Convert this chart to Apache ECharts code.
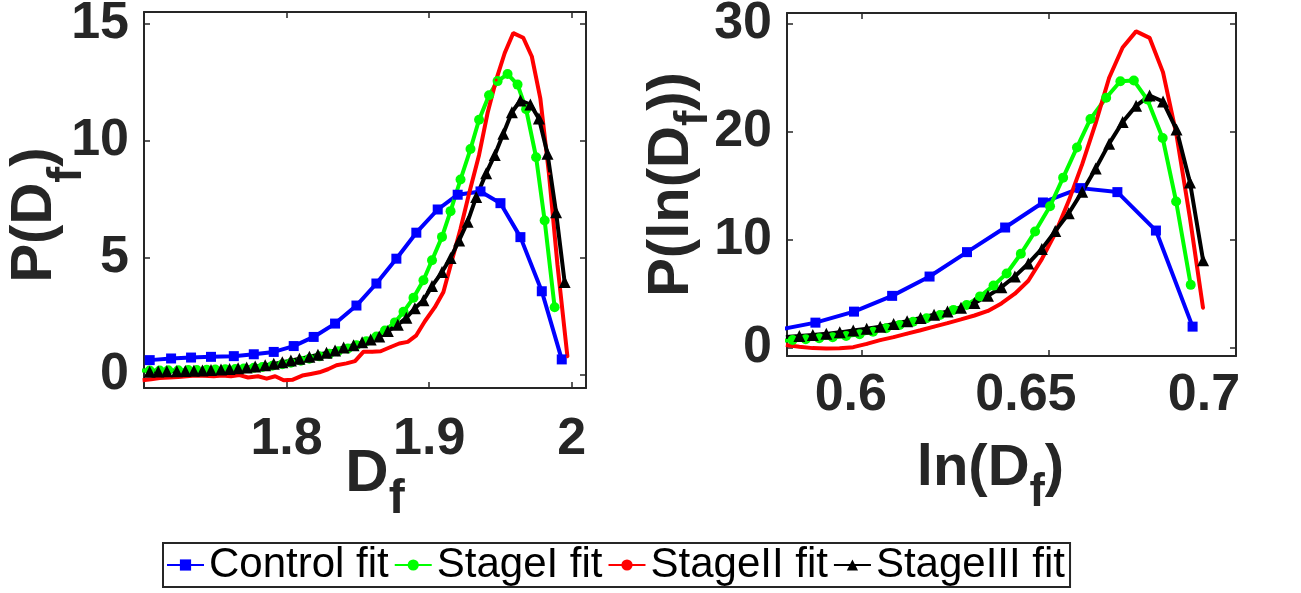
<!DOCTYPE html>
<html>
<head>
<meta charset="UTF-8">
<title>P(Df)</title>
<style>
body{margin:0;background:#fff;}
#main{width:1301px;height:593px;}
</style>
</head>
<body>
<div id="main"></div>
<script type="text/javascript" src="https://cdn.jsdelivr.net/npm/echarts@6.0.0/dist/echarts.min.js"></script>
<script type="text/javascript">
// ---- left panel: P(Df) ----
var dfBlueX = [1.704,1.719,1.733,1.747,1.763,1.777,1.791,1.805,1.819,1.834,1.849,1.863,1.877,1.891,1.906,1.920,1.936,1.950,1.964,1.979,1.993];
var dfBlueY = [0.64,0.71,0.75,0.78,0.81,0.89,0.99,1.24,1.63,2.20,2.97,3.91,4.97,6.08,7.07,7.70,7.84,7.34,5.89,3.58,0.67];

var dfGreenX = [1.698,1.704,1.711,1.717,1.724,1.731,1.737,1.744,1.750,1.757,1.764,1.770,1.777,1.783,1.790,1.797,1.803,1.810,1.816,1.823,1.830,1.836,1.843,1.849,1.856,1.863,1.869,1.876,1.882,1.889,1.896,1.902,1.909,1.915,1.922,1.929,1.935,1.942,1.948,1.955,1.962,1.968,1.975,1.981,1.988];
var dfGreenY = [0.20,0.20,0.20,0.21,0.21,0.22,0.22,0.23,0.24,0.25,0.26,0.28,0.31,0.35,0.40,0.46,0.53,0.61,0.70,0.80,0.91,1.02,1.14,1.28,1.45,1.65,1.90,2.25,2.70,3.30,4.05,4.90,5.90,7.00,8.35,9.65,10.9,11.95,12.55,12.85,12.4,11.35,9.3,6.6,2.9];

var dfRedX = [1.699,1.705,1.711,1.718,1.724,1.730,1.736,1.742,1.749,1.755,1.761,1.767,1.773,1.780,1.786,1.792,1.798,1.804,1.811,1.817,1.823,1.829,1.835,1.842,1.848,1.854,1.860,1.866,1.873,1.879,1.885,1.891,1.897,1.904,1.910,1.916,1.922,1.928,1.935,1.941,1.947,1.953,1.959,1.966,1.972,1.978,1.984,1.990,1.997];
var dfRedY = [-0.22,-0.18,-0.12,-0.10,-0.08,-0.05,-0.02,-0.03,-0.05,-0.02,-0.05,0.0,-0.10,-0.05,-0.15,-0.05,-0.22,-0.20,-0.02,0.05,0.12,0.25,0.42,0.50,0.60,1.00,1.00,1.02,1.20,1.35,1.42,1.70,2.30,2.90,3.55,4.90,6.25,7.75,9.40,11.2,12.6,13.75,14.6,14.4,13.6,11.8,8.6,4.7,0.78];

var dfBlackX = [1.704,1.710,1.716,1.723,1.729,1.735,1.741,1.747,1.754,1.760,1.766,1.772,1.778,1.785,1.791,1.797,1.803,1.809,1.816,1.822,1.828,1.834,1.840,1.847,1.853,1.859,1.865,1.871,1.878,1.884,1.890,1.896,1.902,1.909,1.915,1.921,1.927,1.933,1.940,1.946,1.952,1.958,1.964,1.971,1.977,1.983,1.989,1.995];
var dfBlackY = [0.14,0.15,0.16,0.17,0.18,0.19,0.20,0.22,0.24,0.26,0.29,0.32,0.37,0.42,0.48,0.55,0.62,0.70,0.78,0.87,0.95,1.05,1.18,1.28,1.40,1.52,1.65,1.88,2.15,2.45,2.85,3.20,3.80,4.40,5.00,5.75,6.55,7.60,8.62,9.40,10.3,11.22,11.72,11.55,10.95,9.45,6.95,3.98];

// ---- right panel: P(ln(Df)) ----
var lnBlueX = [0.5775,0.5876,0.5979,0.6081,0.6181,0.6281,0.6383,0.6484,0.6584,0.6683,0.6786,0.6884];
var lnBlueY = [1.64,2.32,3.34,4.80,6.59,8.85,11.13,13.45,14.78,14.41,10.85,1.95];

var lnGreenX = [0.5779,0.5815,0.5850,0.5886,0.5922,0.5958,0.5994,0.6030,0.6065,0.6101,0.6137,0.6173,0.6209,0.6245,0.6280,0.6316,0.6352,0.6387,0.6425,0.6463,0.6503,0.6538,0.6575,0.6611,0.6653,0.6691,0.6727,0.6763,0.6804,0.6840,0.6879];
var lnGreenY = [0.65,0.71,0.78,0.87,0.96,1.08,1.25,1.48,1.80,2.10,2.41,2.72,3.03,3.50,3.96,4.75,5.75,6.87,8.70,10.76,13.1,15.75,18.55,21.19,23.15,24.68,24.74,22.98,19.42,13.54,5.82];

// red and black share the same bins
var lnStageX = [0.5797,0.5833,0.5869,0.5905,0.5941,0.5977,0.6013,0.6049,0.6085,0.6121,0.6157,0.6193,0.6229,0.6265,0.6301,0.6337,0.6373,0.6409,0.6445,0.6481,0.6517,0.6553,0.6589,0.6625,0.6661,0.6697,0.6733,0.6769,0.6805,0.6841,0.6877,0.6912];
var lnRedY = [0.25,0.08,-0.04,-0.08,-0.05,0.05,0.35,0.70,0.98,1.30,1.62,1.95,2.28,2.62,2.98,3.40,4.10,5.00,6.20,8.20,10.6,13.6,17.0,20.8,25.0,27.8,29.3,28.7,25.5,19.7,12.0,3.65];
var lnBlackY = [1.00,1.08,1.18,1.28,1.42,1.60,1.75,1.95,2.20,2.45,2.75,3.05,3.35,3.70,4.15,4.80,5.60,6.60,7.80,9.15,10.8,12.45,14.45,16.6,18.9,20.9,22.4,23.35,22.8,20.2,15.3,8.1];

// ticks
var dfTicks = [1.8, 1.9, 2.0];
var dfYTicks = [0, 5, 10, 15];
var lnTicks = [0.6, 0.65, 0.7];
var lnYTicks = [0, 10, 20, 30];

var seriesNames = ['Control fit', 'StageI fit', 'StageII fit', 'StageIII fit'];

function pairs(xs, ys) {
	return xs.map(function (x, i) { return [x, ys[i]]; });
}

var FONT = '"Liberation Sans", Arial, sans-serif';
var INK = '#262626';

// one side of the box; top/right copies carry only the ticks
function boxAxis(grid, pos, min, max, ticks, extra) {
	var ax = {
		gridIndex: grid,
		type: 'value',
		position: pos,
		min: min,
		max: max,
		nameMoveOverlap: false,
		axisLine: {show: true, onZero: false, lineStyle: {color: INK, width: 2}},
		axisTick: {show: true, inside: true, length: 6, customValues: ticks, lineStyle: {color: INK, width: 1.5}},
		axisLabel: {show: false},
		splitLine: {show: false}
	};
	for (var k in extra) ax[k] = extra[k];
	return ax;
}

function tickLabel(ticks, margin, fmt, rich) {
	var l = {
		show: true,
		customValues: ticks,
		margin: margin,
		color: INK,
		fontFamily: FONT,
		fontWeight: 'bold',
		fontSize: 52,
		formatter: fmt
	};
	if (rich) l.rich = rich;
	return l;
}

// axis title with a subscript f (drop = how far the f sits below)
function nameStyle(size, pad, drop, subScale) {
	return {
		color: INK,
		fontFamily: FONT,
		fontWeight: 'bold',
		fontSize: size,
		padding: pad,
		rich: {
			s: {fontFamily: FONT, fontWeight: 'bold', fontSize: Math.round(size * (subScale || 0.8)), color: INK, padding: [drop, 0, 0, 0]}
		}
	};
}

function trim(v) {
	return String(Math.round(v * 100) / 100);
}

// right panel x labels sit a bit left of their ticks
var lnKey = {'0.60': 'a', '0.65': 'b', '0.70': 'c'};
function lnFmt(v) {
	return '{' + lnKey[v.toFixed(2)] + '|' + trim(v) + '}';
}
function shiftStyle(r) {
	return {fontFamily: FONT, fontWeight: 'bold', fontSize: 52, color: INK, padding: [0, r, 0, 0]};
}

var myChart = echarts.init(document.getElementById('main'), null, {renderer: 'canvas'});

myChart.setOption({
	animation: false,
	backgroundColor: '#fff',
	grid: [
		{left: 144, top: 12, width: 442, height: 376, outerBoundsMode: 'none'},
		{left: 787, top: 13, width: 449, height: 343, outerBoundsMode: 'none'}
	],
	legend: {
		data: seriesNames,
		left: 163,
		top: 543,
		itemWidth: 37,
		itemHeight: 14,
		itemGap: 5,
		padding: [1, 5, 1, 3],
		borderColor: INK,
		borderWidth: 2,
		textStyle: {fontFamily: FONT, fontSize: 42, color: '#000'}
	},
	xAxis: [
		boxAxis(0, 'bottom', 1.7, 2.01, dfTicks, {
			axisLabel: tickLabel(dfTicks, 26, trim),
			name: 'D{s|f}',
			nameLocation: 'middle',
			nameGap: 36,
			nameTextStyle: nameStyle(60, [0, 0, 0, 20], 52)
		}),
		boxAxis(0, 'top', 1.7, 2.01, dfTicks, {}),
		boxAxis(1, 'bottom', 0.58, 0.7, lnTicks, {
			axisLabel: tickLabel(lnTicks, 14, lnFmt, {a: shiftStyle(22), b: shiftStyle(46), c: shiftStyle(64)}),
			name: 'ln(D{s|f})',
			nameLocation: 'middle',
			nameGap: 66,
			nameTextStyle: nameStyle(58, [0, 42, 0, 0], 48)
		}),
		boxAxis(1, 'top', 0.58, 0.7, lnTicks, {})
	],
	yAxis: [
		boxAxis(0, 'left', -0.55, 15.5, dfYTicks, {
			axisLabel: tickLabel(dfYTicks, 15, trim),
			name: 'P(D{s|f})',
			nameLocation: 'middle',
			nameGap: 52,
			nameTextStyle: nameStyle(58, [0, 30, 0, 0], 66, 0.83)
		}),
		boxAxis(0, 'right', -0.55, 15.5, dfYTicks, {}),
		boxAxis(1, 'left', -0.77, 31, lnYTicks, {
			axisLabel: tickLabel(lnYTicks, 15, trim),
			name: 'P(ln(D{s|f}))',
			nameLocation: 'middle',
			nameGap: 70,
			nameTextStyle: nameStyle(58, [0, 0, 0, 0], 44)
		}),
		boxAxis(1, 'right', -0.77, 31, lnYTicks, {})
	],
	series: [
		// left panel
		{name: 'Control fit', type: 'line', xAxisIndex: 0, yAxisIndex: 0, data: pairs(dfBlueX, dfBlueY),
			symbol: 'rect', symbolSize: 10, color: '#0000ff', lineStyle: {width: 4}},
		{name: 'StageI fit', type: 'line', xAxisIndex: 0, yAxisIndex: 0, data: pairs(dfGreenX, dfGreenY),
			symbol: 'circle', symbolSize: 10, color: '#00ff00', lineStyle: {width: 4}},
		{name: 'StageII fit', type: 'line', xAxisIndex: 0, yAxisIndex: 0, data: pairs(dfRedX, dfRedY),
			symbol: 'circle', symbolSize: 3, color: '#ff0000', lineStyle: {width: 4}},
		{name: 'StageIII fit', type: 'line', xAxisIndex: 0, yAxisIndex: 0, data: pairs(dfBlackX, dfBlackY),
			symbol: 'triangle', symbolSize: 12, color: '#000000', lineStyle: {width: 4}},
		// right panel
		{name: 'Control fit', type: 'line', xAxisIndex: 2, yAxisIndex: 2, data: pairs(lnBlueX, lnBlueY),
			symbol: 'rect', symbolSize: 10, color: '#0000ff', lineStyle: {width: 4}},
		{name: 'StageI fit', type: 'line', xAxisIndex: 2, yAxisIndex: 2, data: pairs(lnGreenX, lnGreenY),
			symbol: 'circle', symbolSize: 10, color: '#00ff00', lineStyle: {width: 4}},
		{name: 'StageII fit', type: 'line', xAxisIndex: 2, yAxisIndex: 2, data: pairs(lnStageX, lnRedY),
			symbol: 'circle', symbolSize: 3, color: '#ff0000', lineStyle: {width: 4}},
		{name: 'StageIII fit', type: 'line', xAxisIndex: 2, yAxisIndex: 2, data: pairs(lnStageX, lnBlackY),
			symbol: 'triangle', symbolSize: 12, color: '#000000', lineStyle: {width: 4}}
	]
});
</script>
</body>
</html>
